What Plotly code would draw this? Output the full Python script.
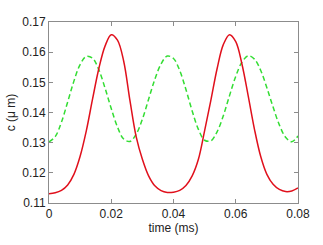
import plotly.graph_objects as go

time_ms = [0.000, 0.002, 0.004, 0.006, 0.008, 0.010, 0.012, 0.014, 0.016, 0.018,
           0.020, 0.022, 0.024, 0.026, 0.028, 0.030, 0.032, 0.034, 0.036, 0.038,
           0.040, 0.042, 0.044, 0.046, 0.048, 0.050, 0.052, 0.054, 0.056, 0.058,
           0.060, 0.062, 0.064, 0.066, 0.068, 0.070, 0.072, 0.074, 0.076, 0.078,
           0.080]

red_c = [0.1131, 0.1134, 0.1142, 0.1160, 0.1195, 0.1255, 0.1340, 0.1445, 0.1545, 0.1620,
         0.1658, 0.1640, 0.1570, 0.1440, 0.1320, 0.1245, 0.1190, 0.1157, 0.1141, 0.1135,
         0.1136, 0.1142, 0.1158, 0.1190, 0.1245, 0.1340, 0.1440, 0.1545, 0.1625, 0.1658,
         0.1635, 0.1560, 0.1455, 0.1345, 0.1255, 0.1195, 0.1162, 0.1145, 0.1138, 0.1140,
         0.1150]

green_c = [0.1303, 0.1320, 0.1368, 0.1435, 0.1504, 0.1559, 0.1586, 0.1580, 0.1542, 0.1481,
           0.1413, 0.1352, 0.1312, 0.1304, 0.1328, 0.1378, 0.1444, 0.1510, 0.1561, 0.1587,
           0.1579, 0.1539, 0.1476, 0.1405, 0.1344, 0.1308, 0.1306, 0.1336, 0.1389, 0.1456,
           0.1520, 0.1567, 0.1588, 0.1577, 0.1540, 0.1482, 0.1418, 0.1359, 0.1318, 0.1303,
           0.1322]

x_ticks = [0, 0.02, 0.04, 0.06, 0.08]
x_labels = ["0", "0.02", "0.04", "0.06", "0.08"]
y_ticks = [0.11, 0.12, 0.13, 0.14, 0.15, 0.16, 0.17]
y_labels = ["0.11", "0.12", "0.13", "0.14", "0.15", "0.16", "0.17"]

fig = go.Figure()
fig.add_trace(go.Scatter(x=time_ms, y=green_c, mode="lines", line_shape="spline",
                         line=dict(color="#33dd33", width=1.5, dash="5px,3px")))
fig.add_trace(go.Scatter(x=time_ms, y=red_c, mode="lines", line_shape="spline",
                         line=dict(color="#e0101c", width=1.5)))

axis_common = dict(showgrid=False, zeroline=False, showline=True, linecolor="#8c8c8c",
                   linewidth=1, mirror="ticks", ticks="inside", ticklen=4,
                   tickcolor="#8c8c8c", automargin=False,
                   tickfont=dict(size=12, color="#222222"))

fig.update_layout(
    width=323, height=245,
    margin=dict(l=49, r=25, t=22, b=42),
    paper_bgcolor="white", plot_bgcolor="white",
    showlegend=False,
    font=dict(family="Liberation Sans, Arial, sans-serif", size=12, color="#222222"),
    xaxis=dict(range=[0, 0.08], tickvals=x_ticks, ticktext=x_labels,
               title=dict(text="time (ms)", standoff=3, font=dict(size=12)), **axis_common),
    yaxis=dict(range=[0.11, 0.17], tickvals=y_ticks, ticktext=y_labels,
               title=dict(text="c (μ m)", standoff=4, font=dict(size=12)), **axis_common),
)

fig.write_html("out.html", config={"displayModeBar": False},
               post_script="document.body.style.margin='0';document.body.style.overflow='hidden';")
